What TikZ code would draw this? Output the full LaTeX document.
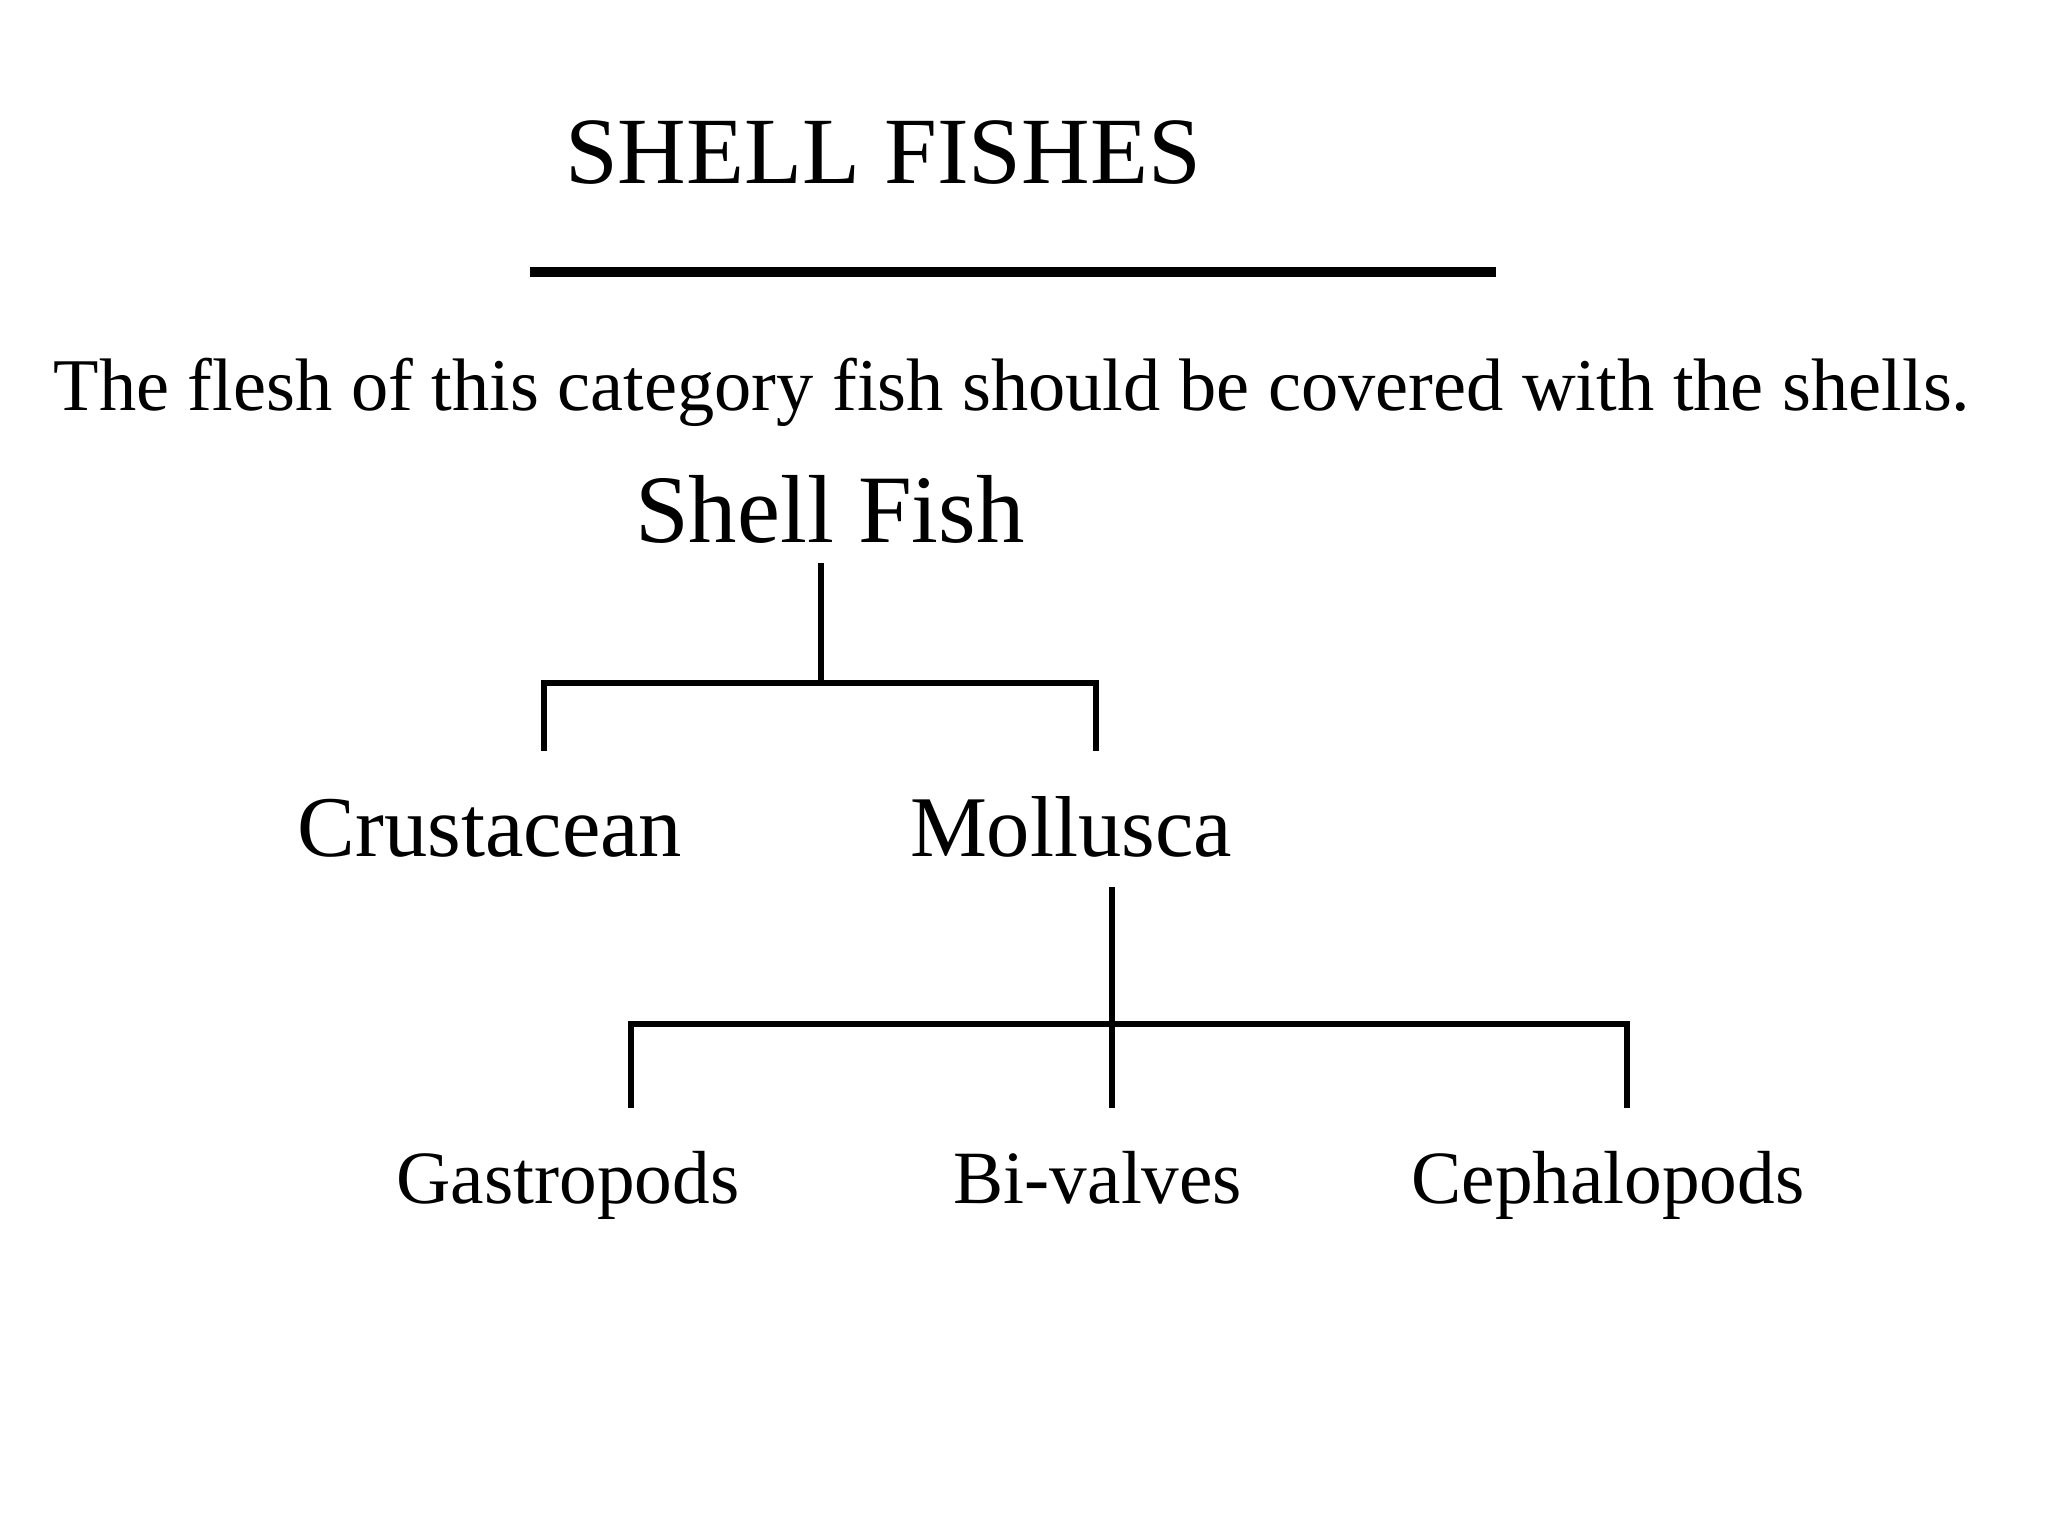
\documentclass[tikz,border=0pt]{standalone}
\usepackage{fontspec}
\setmainfont{Liberation Serif}
\usepackage{tikz}

\begin{document}
\begin{tikzpicture}[
            x = 0.01cm, y = -0.01cm, % pixel grid, y down
            line width = 1.7pt, % line style
            every node/.style = {anchor = base, inner sep = 0pt}
        ]

        \tikzstyle{title}=[font = \fontsize{27}{32}\selectfont]
        \tikzstyle{note}=[font = \fontsize{21.15}{26}\selectfont]
        \tikzstyle{root}=[font = \fontsize{27.5}{33}\selectfont]
        \tikzstyle{kind}=[font = \fontsize{24.6}{29}\selectfont]
        \tikzstyle{leaf}=[font = \fontsize{21.4}{25}\selectfont]

\useasboundingbox (0,0) rectangle (2048,1536);

\node[title] (T) at (883,183) {SHELL FISHES};
\coordinate (ul1) at (530,272);
\coordinate (ul2) at (1496,272);
\draw[line width = 2.6pt] (ul1) -- (ul2);

\node[note] (N) at (1012,410) {The flesh of this category fish should be covered with the shells.};

\node[root] (S) at (830,542) {Shell Fish};
\node[kind] (C) at (490,856) {Crustacean};
\node[kind] (M) at (1071,856) {Mollusca};
\node[leaf] (G) at (568,1203) {Gastropods};
\node[leaf] (B) at (1098,1203) {Bi-valves};
\node[leaf] (P) at (1608,1203) {Cephalopods};

% first level
\coordinate (s0) at (821,563);
\coordinate (s1) at (821,683);
\coordinate (c0) at (544,683);
\coordinate (c1) at (544,751);
\coordinate (m0) at (1096,683);
\coordinate (m1) at (1096,751);
 \draw (s0) -- (s1);
 \draw (c1) -- (c0) -- (m0) -- (m1);

% second level
\coordinate (k0) at (1112,887);
\coordinate (k1) at (1112,1108);
\coordinate (g0) at (631,1024);
\coordinate (g1) at (631,1108);
\coordinate (p0) at (1627,1024);
\coordinate (p1) at (1627,1108);
 \draw[line width = 1.5pt] (k0) -- (k1);
 \draw[line width = 1.5pt] (g1) -- (g0) -- (p0) -- (p1);
\end{tikzpicture}
\end{document}
